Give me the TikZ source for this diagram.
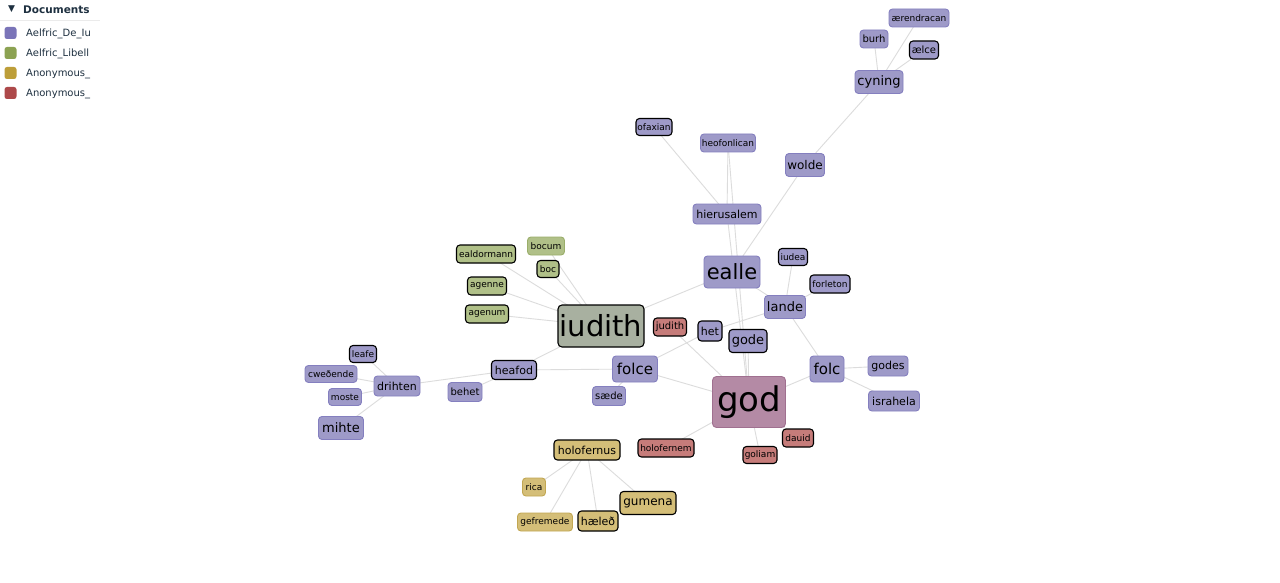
\documentclass[tikz,border=0pt]{standalone}
\usepackage{fontspec}
\setmainfont{DejaVu Sans}
\usetikzlibrary{backgrounds}
\definecolor{pufill}{HTML}{9E9AC8}
\definecolor{puline}{HTML}{847FBF}
\definecolor{grfill}{HTML}{B0C088}
\definecolor{grline}{HTML}{9AAE6A}
\definecolor{yefill}{HTML}{D4BE78}
\definecolor{yeline}{HTML}{C2A752}
\definecolor{refill}{HTML}{C67C7A}
\definecolor{reline}{HTML}{B36260}
\definecolor{iufill}{HTML}{A8B0A0}
\definecolor{godfill}{HTML}{B48AA5}
\definecolor{godline}{HTML}{A07090}
\definecolor{lgpu}{HTML}{7A74B8}
\definecolor{lggr}{HTML}{8CA252}
\definecolor{lgye}{HTML}{BD9E39}
\definecolor{lgre}{HTML}{AD494A}
\definecolor{edgec}{HTML}{DCDCDC}
\definecolor{legtext}{HTML}{1E3040}
\tikzset{
  nd/.style={rounded corners=3.5pt, inner sep=0pt, text=black, line width=0.9pt},
  pu/.style={nd, fill=pufill, draw=puline},
  gr/.style={nd, fill=grfill, draw=grline},
  ye/.style={nd, fill=yefill, draw=yeline},
  re/.style={nd, fill=refill, draw=reline},
  blk/.style={draw=black, line width=1.1pt},
  fs/.style={font=\fontsize{#1}{#1}\selectfont},
  wh/.style 2 args={minimum width=#1, minimum height=#2},
  link/.style={draw=edgec, line width=0.9pt},
  legsq/.style={rounded corners=2.5pt, minimum size=12, inner sep=0pt},
  legtx/.style={anchor=west, text=legtext, fs=10, inner sep=0pt}
}
\begin{document}
\begin{tikzpicture}[x=1pt, y=-1pt]
\useasboundingbox (0,0) rectangle (1280,583);
% legend
\node[anchor=west, text=legtext, inner sep=0pt, font=\fontsize{9}{9}\selectfont] (tri) at (8,9) {▼};
\node[anchor=west, text=legtext, inner sep=0pt, font=\fontsize{10.5}{10.5}\selectfont\bfseries] (hdr) at (23,10) {Documents};
\coordinate (hl) at (0,20);
\coordinate (hr) at (100,20);
\draw[draw=black!8, line width=0.8pt] (hl) -- (hr);
\node[legsq, fill=lgpu] (s1) at (10.5,33) {};
\node[legtx] (l1) at (26,34) {Aelfric\_De\_Iu};
\node[legsq, fill=lggr] (s2) at (10.5,53) {};
\node[legtx] (l2) at (26,54) {Aelfric\_Libell};
\node[legsq, fill=lgye] (s3) at (10.5,73) {};
\node[legtx] (l3) at (26,74) {Anonymous\_};
\node[legsq, fill=lgre] (s4) at (10.5,93) {};
\node[legtx] (l4) at (26,94) {Anonymous\_};
% nodes
\node[pu, wh={48}{23}, fs=13] (cyning) at (879,82) {cyning};
\node[pu, wh={28}{18}, fs=10] (burh) at (874,39) {burh};
\node[pu, wh={60}{18}, fs=9] (aerendracan) at (919,18) {ærendracan};
\node[pu, blk, wh={29}{18}, fs=10] (aelce) at (924,50) {ælce};
\node[pu, wh={39}{23}, fs=12] (wolde) at (805,165) {wolde};
\node[pu, blk, wh={36}{17}, fs=9] (ofaxian) at (654,127) {ofaxian};
\node[pu, wh={55}{18}, fs=9] (heofonlican) at (728,143) {heofonlican};
\node[pu, wh={68}{20}, fs=11] (hierusalem) at (727,214) {hierusalem};
\node[pu, wh={56}{32}, fs=21] (ealle) at (732,272) {ealle};
\node[pu, blk, wh={29}{17}, fs=9] (iudea) at (793,257) {iudea};
\node[pu, blk, wh={40}{18}, fs=9] (forleton) at (830,284) {forleton};
\node[pu, wh={41}{23}, fs=13] (lande) at (785,307) {lande};
\node[re, blk, wh={33}{18}, fs=10] (judith) at (670,327) {judith};
\node[pu, blk, wh={24}{20}, fs=11] (het) at (710,331) {het};
\node[pu, blk, wh={38}{23}, fs=13] (gode) at (748,341) {gode};
\node[nd, fill=iufill, blk, rounded corners=4pt, wh={86}{42}, fs=29] (iudith) at (601,326) {iudith};
\node[gr, blk, wh={59}{18}, fs=9] (ealdormann) at (486,254) {ealdormann};
\node[gr, wh={37}{18}, fs=9] (bocum) at (546,246) {bocum};
\node[gr, blk, wh={22}{17}, fs=9] (boc) at (548,269) {boc};
\node[gr, blk, wh={39}{18}, fs=9] (agenne) at (487,286) {agenne};
\node[gr, blk, wh={43}{18}, fs=9] (agenum) at (487,314) {agenum};
\node[pu, wh={45}{26}, fs=15] (folce) at (635,369) {folce};
\node[pu, blk, wh={45}{19}, fs=11] (heafod) at (514,370) {heafod};
\node[pu, wh={46}{20}, fs=11] (drihten) at (397,386) {drihten};
\node[pu, blk, wh={27}{17}, fs=9] (leafe) at (363,354) {leafe};
\node[pu, wh={52}{17}, fs=9] (cwedende) at (331,374) {cweðende};
\node[pu, wh={33}{17}, fs=9] (moste) at (345,397) {moste};
\node[pu, wh={45}{23}, fs=13] (mihte) at (341,428) {mihte};
\node[pu, wh={34}{19}, fs=10] (behet) at (465,392) {behet};
\node[pu, wh={33}{19}, fs=10] (saede) at (609,396) {sæde};
\node[nd, fill=godfill, draw=godline, rounded corners=4pt, wh={73}{51}, fs=34] (god) at (749,402) {god};
\node[pu, wh={34}{26}, fs=15] (folc) at (827,369) {folc};
\node[pu, wh={40}{20}, fs=11] (godes) at (888,366) {godes};
\node[pu, wh={51}{20}, fs=11] (israhela) at (894,401) {israhela};
\node[re, blk, wh={31}{18}, fs=9] (dauid) at (798,438) {dauid};
\node[re, blk, wh={34}{17}, fs=9] (goliam) at (760,455) {goliam};
\node[re, blk, wh={56}{18}, fs=9] (holofernem) at (666,448) {holofernem};
\node[ye, blk, wh={66}{20}, fs=11] (holofernus) at (587,450) {holofernus};
\node[ye, wh={23}{18}, fs=9] (rica) at (534,487) {rica};
\node[ye, wh={55}{18}, fs=9] (gefremede) at (545,522) {gefremede};
\node[ye, blk, wh={40}{20}, fs=11] (haeled) at (598,521) {hæleð};
\node[ye, blk, wh={56}{23}, fs=12] (gumena) at (648,503) {gumena};
% edges
\begin{pgfonlayer}{background}
\fill[white] (0,0) rectangle (1280,583);
\foreach \a/\b in {cyning/burh, cyning/aerendracan, cyning/aelce, cyning/wolde,
  wolde/ealle, ofaxian/hierusalem, heofonlican/hierusalem, hierusalem/god,
  heofonlican/god, ealle/iudith, ealle/lande, lande/iudea, lande/forleton,
  lande/folc, lande/het, het/folce, judith/god, folce/god, folce/heafod,
  folce/saede, heafod/iudith, heafod/drihten, heafod/behet, drihten/leafe,
  drihten/cwedende, drihten/moste, drihten/mihte, iudith/ealdormann,
  iudith/bocum, iudith/boc, iudith/agenne, iudith/agenum, god/folc,
  folc/godes, folc/israhela, god/holofernem, god/goliam, god/dauid, god/gode,
  holofernus/rica, holofernus/gefremede, holofernus/haeled, holofernus/gumena}
  \draw[link] (\a.center) -- (\b.center);
\end{pgfonlayer}
\end{tikzpicture}
\end{document}
